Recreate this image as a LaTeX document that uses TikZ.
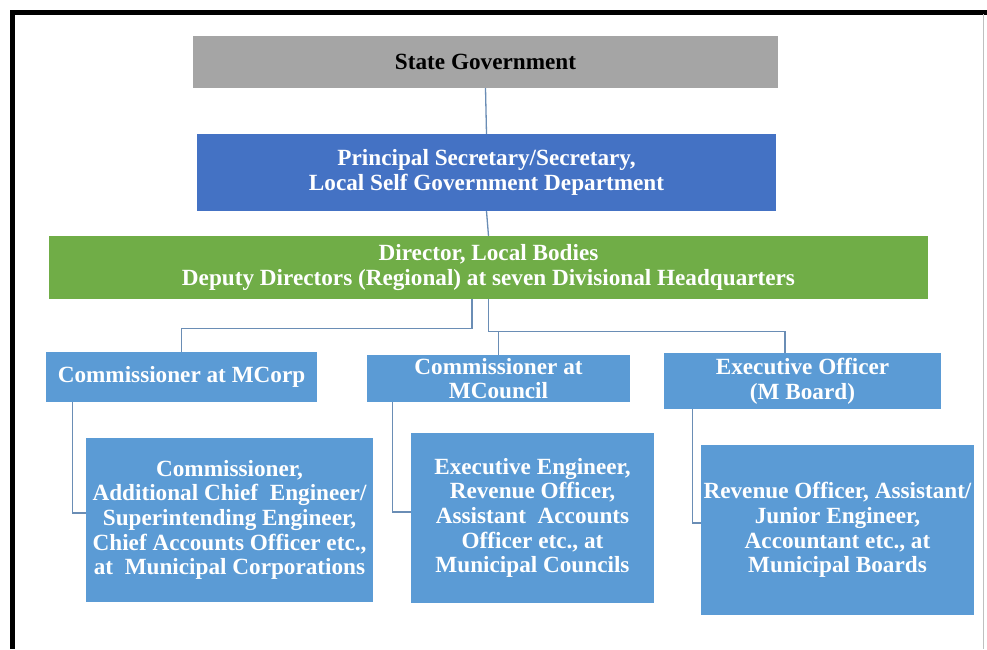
\documentclass[tikz,border=0pt]{standalone}
\usepackage{fontspec}
\setmainfont{Liberation Serif}
\usetikzlibrary{calc}
\definecolor{sggray}{HTML}{A5A5A5}
\definecolor{psblue}{HTML}{4472C4}
\definecolor{dirgreen}{HTML}{70AD47}
\definecolor{lblue}{HTML}{5B9BD5}
\definecolor{connc}{HTML}{6A8DB5}
\begin{document}
\begin{tikzpicture}[x=1pt,y=-1pt,
  box/.style={rectangle, inner sep=0pt, align=center, font=\fontsize{23.2}{24.6}\selectfont\bfseries, text=white},
  conn/.style={draw=connc, line width=1.3pt}]
\useasboundingbox (0,0) rectangle (987,649);
\fill[white] (0,0) rectangle (987,649);
% frame
\draw[line width=5pt] (10,12) -- (987,12);
\draw[line width=5pt] (12.5,10) -- (12.5,649);
\draw[black!25, line width=1pt] (983,14) -- (983,649);
% boxes
\node[box, fill=sggray, text=black, minimum width=585, minimum height=52] (sg) at (485.5,62) {State Government};
\node[box, fill=psblue, minimum width=579, minimum height=77] (ps) at (486.5,172.5) {Principal Secretary/Secretary,\\Local Self Government Department};
\node[box, fill=dirgreen, minimum width=879, minimum height=63] (dir) at (488.5,267.5) {Director, Local Bodies\\Deputy Directors (Regional) at seven Divisional Headquarters};
\node[box, fill=lblue, minimum width=271, minimum height=50] (mcorp) at (181.5,377) {Commissioner at MCorp};
\node[box, fill=lblue, minimum width=263, minimum height=47] (mcouncil) at (498.5,378.5) {Commissioner at\\MCouncil};
\node[box, fill=lblue, minimum width=277, minimum height=56] (eo) at (802.5,381) {Executive Officer\\(M Board)};
\node[box, fill=lblue, minimum width=287, minimum height=164] (cb) at (229.5,520) {Commissioner,\\Additional Chief\ \ Engineer/\\Superintending Engineer,\\Chief Accounts Officer etc.,\\at\ \ Municipal Corporations};
\node[box, fill=lblue, minimum width=243, minimum height=170] (eb) at (532.5,518) {Executive Engineer,\\Revenue Officer,\\Assistant\ \ Accounts\\Officer etc., at\\Municipal Councils};
\node[box, fill=lblue, minimum width=273, minimum height=170] (rb) at (837.5,530) {Revenue Officer, Assistant/\\Junior Engineer,\\Accountant etc., at\\Municipal Boards};
% connectors
\draw[conn] (sg.south) -- (ps.north);
\draw[conn] (ps.south) -- (dir.north);
\coordinate (jl) at ($(dir.south)+(-16.5,29)$);
\coordinate (jr) at ($(dir.south)+(0,32)$);
\draw[conn] ([xshift=-16.5pt]dir.south) -- (jl) -| (mcorp.north);
\draw[conn] (dir.south) -- (jr) -| ([xshift=-17.5pt]eo.north);
\draw[conn] (mcouncil.north) -- (mcouncil.north |- jr);
\draw[conn] ([xshift=27pt]mcorp.south west) |- ([yshift=7pt]cb.west);
\draw[conn] ([xshift=26pt]mcouncil.south west) |- ([yshift=6pt]eb.west);
\draw[conn] ([xshift=29pt]eo.south west) |- ([yshift=7pt]rb.west);
\end{tikzpicture}
\end{document}
